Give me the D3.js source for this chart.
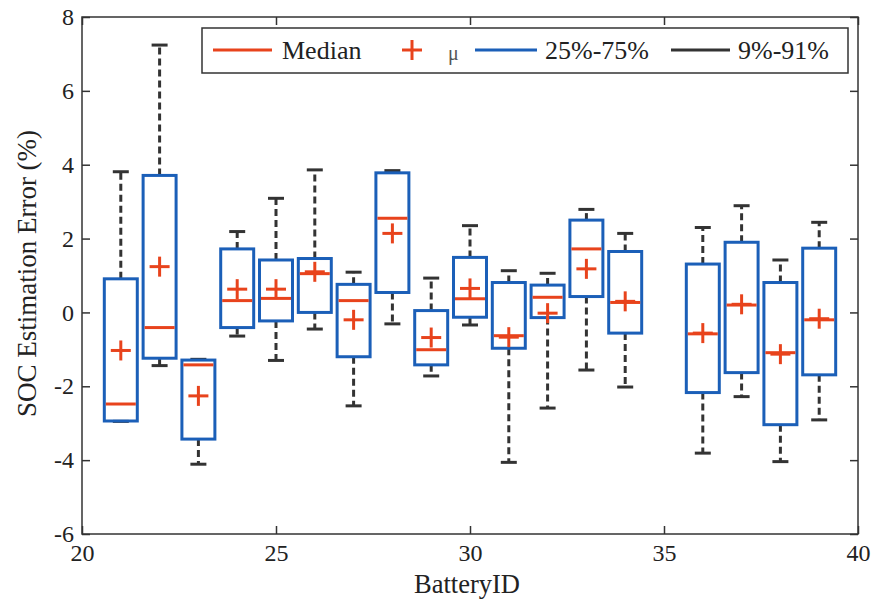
<!DOCTYPE html>
<html>
<head>
<meta charset="utf-8">
<script src="https://cdn.jsdelivr.net/npm/d3@7/dist/d3.min.js"></script>
<style>
  html, body { margin: 0; padding: 0; background: #ffffff; }
  svg { display: block; }
  svg text { font-family: "Liberation Serif", "Times New Roman", Times, "DejaVu Serif", serif; fill: #222; }
</style>
</head>
<body>
<svg id="chart" width="871" height="600"></svg>
<script>
// Battery IDs and per-battery SOC error statistics (%)
const batteryIds = [21, 22, 23, 24, 25, 26, 27, 28, 29, 30, 31, 32, 33, 34, 36, 37, 38, 39];
const p09    = [-2.95, -1.44, -4.11, -0.64, -1.30, -0.45, -2.53, -0.31, -1.72, -0.34, -4.06, -2.59, -1.56, -2.02, -3.81, -2.28, -4.04, -2.91];
const q25    = [-2.94, -1.24, -3.43, -0.41, -0.23,  0.00, -1.20,  0.54, -1.42, -0.13, -0.97, -0.14,  0.43, -0.56, -2.17, -1.63, -3.04, -1.69];
const median = [-2.48, -0.41, -1.42,  0.32,  0.38,  1.05,  0.32,  2.55, -1.01,  0.37, -0.63,  0.41,  1.72,  0.27, -0.58,  0.20, -1.09, -0.20];
const q75    = [ 0.91,  3.71, -1.29,  1.72,  1.42,  1.46,  0.76,  3.78,  0.05,  1.49,  0.81,  0.74,  2.50,  1.65,  1.31,  1.90,  0.81,  1.74];
const p91    = [ 3.81,  7.24, -1.27,  2.19,  3.09,  3.86,  1.09,  3.84,  0.93,  2.35,  1.13,  1.06,  2.79,  2.14,  2.30,  2.89,  1.42,  2.44];
const mu     = [-1.03,  1.24, -2.26,  0.63,  0.63,  1.10, -0.20,  2.14, -0.68,  0.65, -0.67, -0.02,  1.18,  0.30, -0.56,  0.22, -1.13, -0.17];

const xTicks = [20, 25, 30, 35, 40];
const yTicks = [-6, -4, -2, 0, 2, 4, 6, 8];
const legendLabels = ["Median", "\u03bc", "25%-75%", "9%-91%"];

const colBox = "#1b5fb8";
const colMed = "#e8431c";
const colWhisk = "#333333";
const colAxis = "#333333";
const serif = '"Liberation Serif", "Times New Roman", Times, "DejaVu Serif", serif';

const svg = d3.select("#chart");
const W = 871, H = 600;
const margin = { left: 82, right: 13, top: 17, bottom: 66 };
const x = d3.scaleLinear().domain([20, 40]).range([margin.left, W - margin.right]);
const y = d3.scaleLinear().domain([-6, 8]).range([H - margin.bottom, margin.top]);

const data = batteryIds.map((id, i) => ({
  id, lo: p09[i], q1: q25[i], med: median[i], q3: q75[i], hi: p91[i], mean: mu[i]
}));

const boxW = x(0.85) - x(0);
const capW = 16;
const plus = 10;

const g = svg.append("g");

// whiskers (dashed) and caps
const wg = g.append("g").attr("stroke", colWhisk).attr("stroke-width", 3);
data.forEach(d => {
  const cx = x(d.id);
  if (d.hi > d.q3) wg.append("line").attr("x1", cx).attr("x2", cx)
    .attr("y1", y(d.q3)).attr("y2", y(d.hi)).attr("stroke-dasharray", "7,4");
  if (d.lo < d.q1) wg.append("line").attr("x1", cx).attr("x2", cx)
    .attr("y1", y(d.q1)).attr("y2", y(d.lo)).attr("stroke-dasharray", "7,4");
  wg.append("line").attr("x1", cx - capW / 2).attr("x2", cx + capW / 2)
    .attr("y1", y(d.hi)).attr("y2", y(d.hi));
  wg.append("line").attr("x1", cx - capW / 2).attr("x2", cx + capW / 2)
    .attr("y1", y(d.lo)).attr("y2", y(d.lo));
});

// interquartile boxes
g.append("g").selectAll("rect").data(data).join("rect")
  .attr("x", d => x(d.id) - boxW / 2)
  .attr("width", boxW)
  .attr("y", d => y(d.q3))
  .attr("height", d => y(d.q1) - y(d.q3))
  .attr("fill", "none")
  .attr("stroke", colBox)
  .attr("stroke-width", 3);

// medians
g.append("g").selectAll("line").data(data).join("line")
  .attr("x1", d => x(d.id) - boxW / 2 + 1.5)
  .attr("x2", d => x(d.id) + boxW / 2 - 1.5)
  .attr("y1", d => y(d.med)).attr("y2", d => y(d.med))
  .attr("stroke", colMed).attr("stroke-width", 3);

// means
const mg = g.append("g").attr("stroke", colMed).attr("stroke-width", 3);
data.forEach(d => {
  const cx = x(d.id), cy = y(d.mean);
  mg.append("line").attr("x1", cx - plus).attr("x2", cx + plus).attr("y1", cy).attr("y2", cy);
  mg.append("line").attr("x1", cx).attr("x2", cx).attr("y1", cy - plus).attr("y2", cy + plus);
});

// axes (box style with inward ticks)
const x0 = margin.left, x1 = W - margin.right, y0 = H - margin.bottom, y1 = margin.top;
const fmt = d => String(d);
const ax = svg.append("g");
ax.append("g").attr("transform", `translate(0,${y0})`)
  .call(d3.axisBottom(x).tickValues(xTicks).tickSize(-8).tickPadding(10).tickFormat(fmt))
  .call(s => s.select(".domain").remove());
ax.append("g").attr("transform", `translate(0,${y1})`)
  .call(d3.axisTop(x).tickValues(xTicks).tickSize(-8).tickFormat(""))
  .call(s => s.select(".domain").remove());
ax.append("g").attr("transform", `translate(${x0},0)`)
  .call(d3.axisLeft(y).tickValues(yTicks).tickSize(-8).tickPadding(8).tickFormat(fmt))
  .call(s => s.select(".domain").remove());
ax.append("g").attr("transform", `translate(${x1},0)`)
  .call(d3.axisRight(y).tickValues(yTicks).tickSize(-8).tickFormat(""))
  .call(s => s.select(".domain").remove());
ax.selectAll("g").attr("font-family", serif);
ax.selectAll(".tick line").attr("stroke", colAxis).attr("stroke-width", 1.5);
ax.selectAll(".tick text").attr("font-size", 24).attr("fill", "#222");
ax.append("rect").attr("x", x0).attr("y", y1).attr("width", x1 - x0).attr("height", y0 - y1)
  .attr("fill", "none").attr("stroke", colAxis).attr("stroke-width", 1.5);

// axis titles
svg.append("text").attr("x", (x0 + x1) / 2 - 3).attr("y", 593)
  .attr("text-anchor", "middle").attr("font-size", 26.5).text("BatteryID");
svg.append("text").attr("transform", `translate(36,${(y0 + y1) / 2 - 2}) rotate(-90)`)
  .attr("text-anchor", "middle").attr("font-size", 27).text("SOC Estimation Error (%)");

// legend
const lg = svg.append("g");
lg.append("rect").attr("x", 202).attr("y", 28).attr("width", 646).attr("height", 45)
  .attr("fill", "#fff").attr("stroke", colAxis).attr("stroke-width", 1.5);
const ly = 50;
lg.append("line").attr("x1", 213).attr("x2", 272).attr("y1", ly).attr("y2", ly)
  .attr("stroke", colMed).attr("stroke-width", 3);
lg.append("text").attr("x", 282).attr("y", 59).attr("font-size", 26).text(legendLabels[0]);
lg.append("line").attr("x1", 412 - plus).attr("x2", 412 + plus).attr("y1", ly).attr("y2", ly)
  .attr("stroke", colMed).attr("stroke-width", 3);
lg.append("line").attr("x1", 412).attr("x2", 412).attr("y1", ly - plus).attr("y2", ly + plus)
  .attr("stroke", colMed).attr("stroke-width", 3);
lg.append("text").attr("x", 448).attr("y", 60).attr("font-size", 20).style("fill", "#555").text(legendLabels[1]);
lg.append("line").attr("x1", 475).attr("x2", 537).attr("y1", ly).attr("y2", ly)
  .attr("stroke", colBox).attr("stroke-width", 3);
lg.append("text").attr("x", 545).attr("y", 59).attr("font-size", 26).text(legendLabels[2]);
lg.append("line").attr("x1", 671).attr("x2", 730).attr("y1", ly).attr("y2", ly)
  .attr("stroke", colWhisk).attr("stroke-width", 3);
lg.append("text").attr("x", 738).attr("y", 59).attr("font-size", 26).text(legendLabels[3]);
</script>
</body>
</html>
